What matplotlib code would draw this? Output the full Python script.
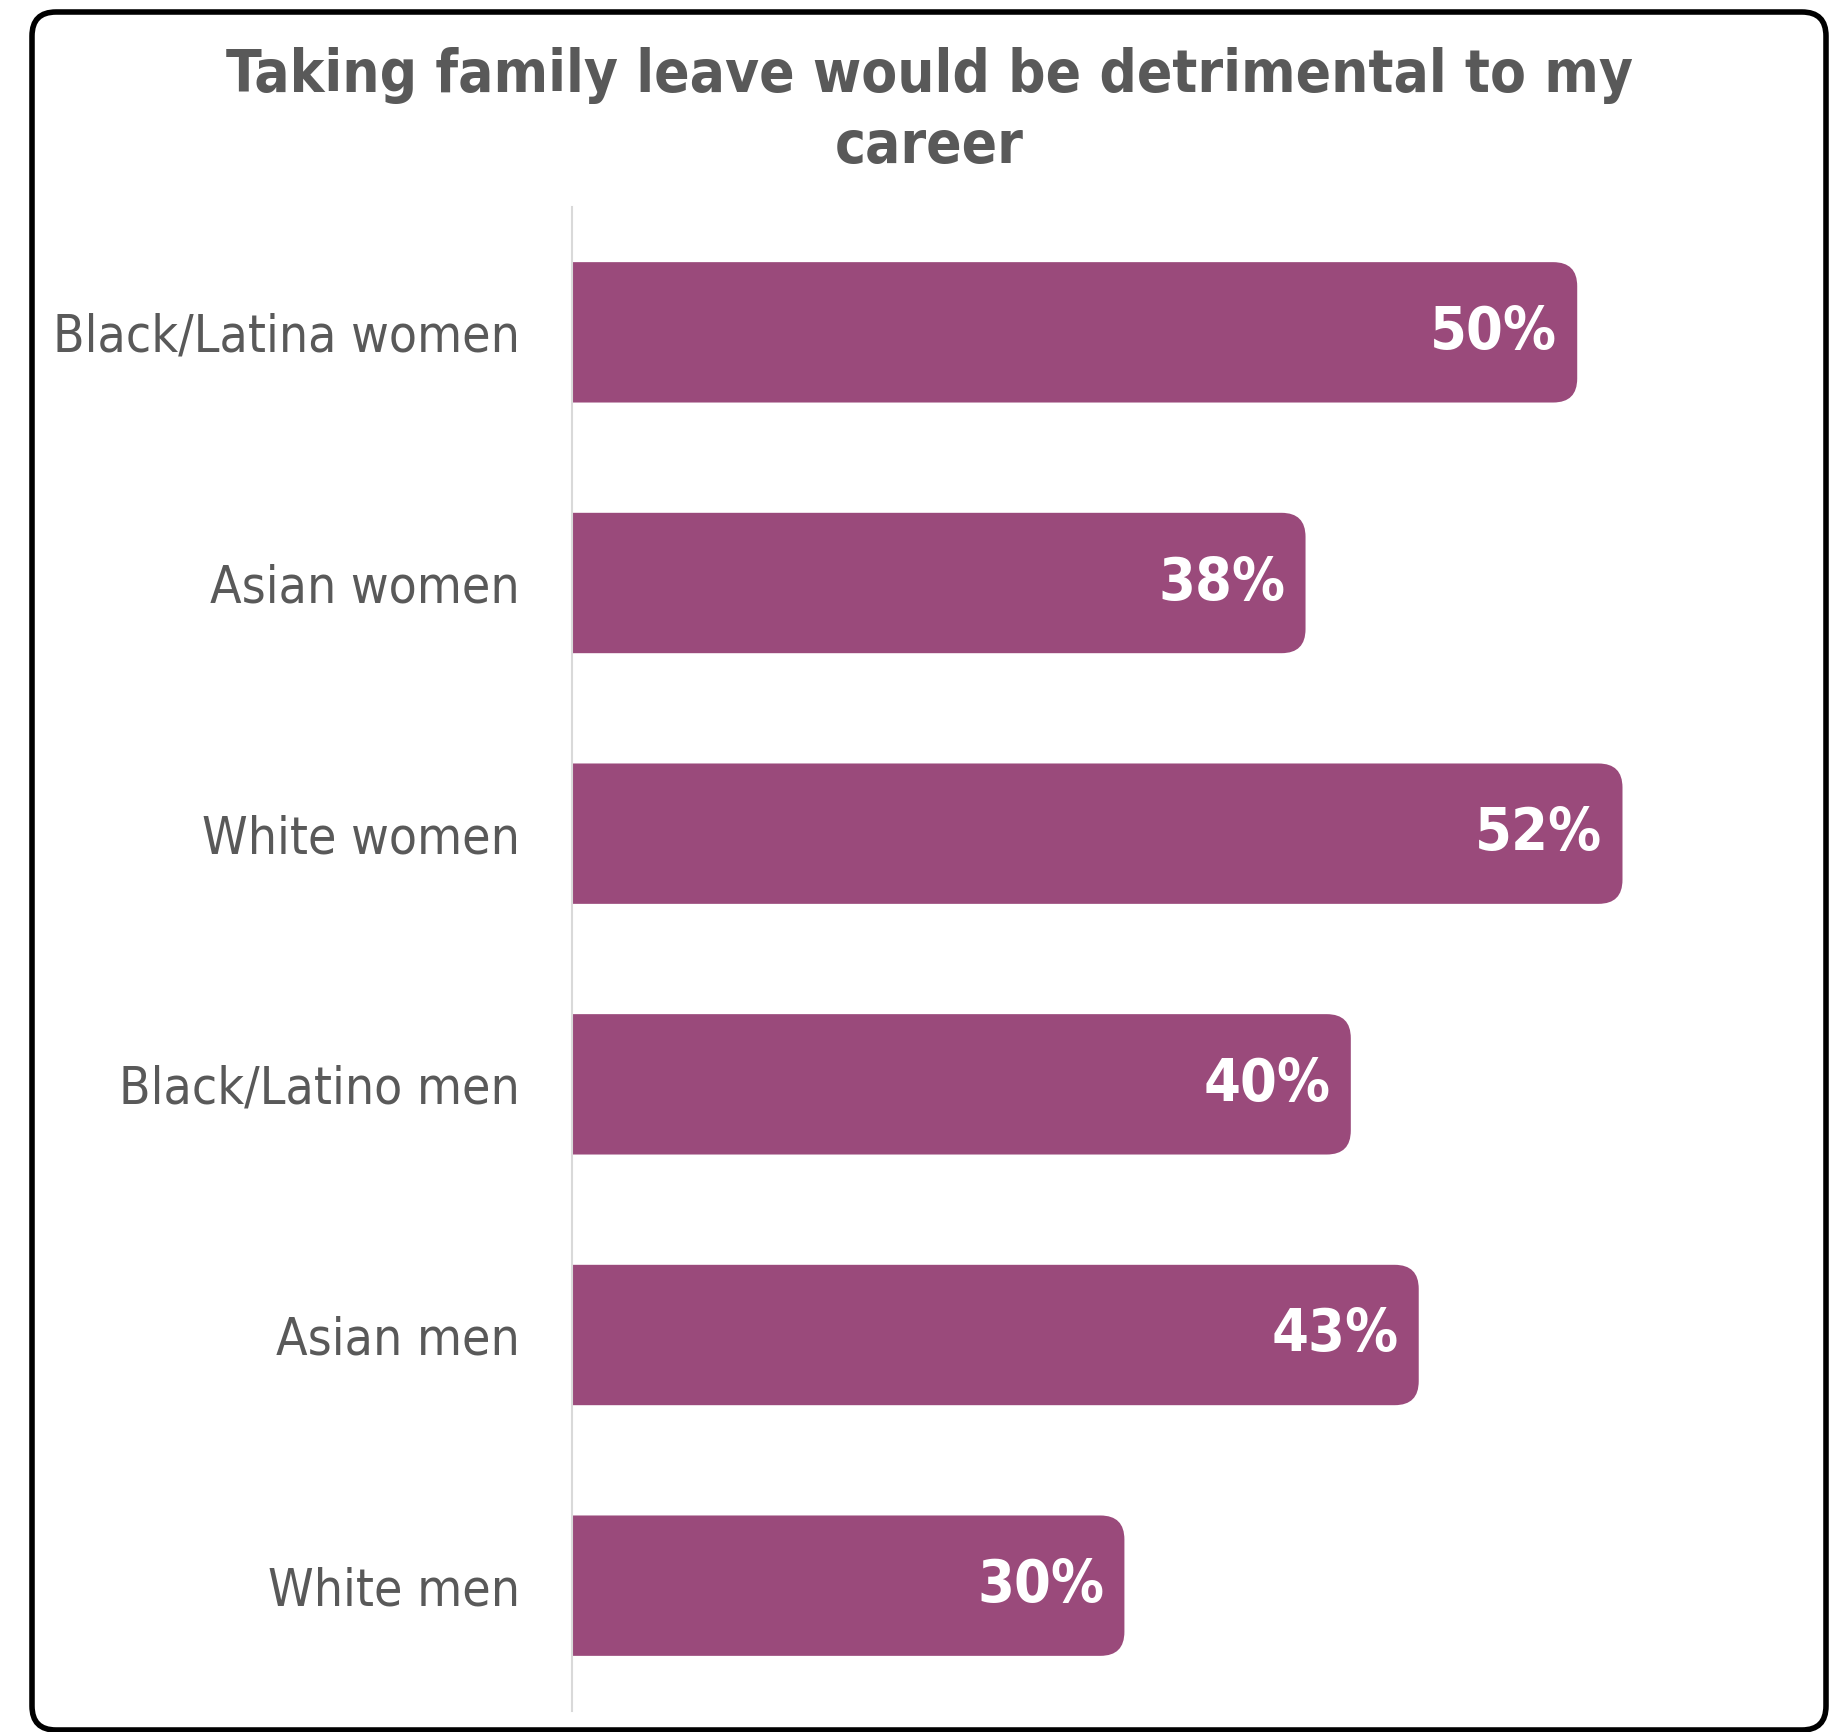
import matplotlib
matplotlib.use("Agg")
import matplotlib.pyplot as plt
from matplotlib.patches import FancyBboxPatch
from matplotlib.font_manager import FontProperties

# ---- data -------------------------------------------------------------
groups = ["Black/Latina women", "Asian women", "White women",
          "Black/Latino men", "Asian men", "White men"]
shares = [50, 38, 52, 40, 43, 30]
title_lines = ["Taking family leave would be detrimental to my", "career"]

# ---- style ------------------------------------------------------------
BAR = "#9A4A7B"
GREY = "#595959"
AXIS = "#D9D9D9"
FAMILY = ["DejaVu Sans"]
STRETCH = "condensed"

W, H, DPI = 1847, 1732, 100
fig = plt.figure(figsize=(W / DPI, H / DPI), dpi=DPI)
fig.patch.set_facecolor("white")

# rounded frame around the whole chart, drawn in pixel units
frame_ax = fig.add_axes([0, 0, 1, 1])
frame_ax.set_xlim(0, W)
frame_ax.set_ylim(H, 0)
frame_ax.axis("off")
frame = FancyBboxPatch((32, 12), 1826 - 32, 1730 - 12,
                       boxstyle="round,pad=0,rounding_size=24",
                       fc="none", ec="black", lw=4.0)
frame_ax.add_patch(frame)

# ---- bar axes -----------------------------------------------------------
x_min, x_max = 5.6, 60.0
ax_left_px, ax_top_px, ax_bot_px = 572, 207, 1711
px_per_x = 22.64
ax_w_px = (x_max - x_min) * px_per_x
ax = fig.add_axes([ax_left_px / W, 1 - ax_bot_px / H, ax_w_px / W, (ax_bot_px - ax_top_px) / H])
ax.set_xlim(x_min, x_max)
ax.set_ylim(len(groups) - 0.5, -0.5)
ax.patch.set_alpha(0)

for s in ("top", "right", "bottom"):
    ax.spines[s].set_visible(False)
ax.spines["left"].set_color(AXIS)
ax.spines["left"].set_linewidth(1.5)
ax.set_xticks([])

px_per_y = (ax_bot_px - ax_top_px) / len(groups)
radius_px = 24
bar_h = 0.56
renderer = fig.canvas.get_renderer()


def fitted_size(text, bold, target_px, start=30):
    fp = FontProperties(family=FAMILY, stretch=STRETCH,
                        weight="bold" if bold else "normal", size=start)
    t = fig.text(0, 0, text, fontproperties=fp)
    w = t.get_window_extent(renderer).width
    t.remove()
    return start * target_px / w


label_size = fitted_size("Black/Latina women", False, 466)
value_size = fitted_size("50%", True, 127)
title_size = fitted_size(title_lines[0], True, 1407)

for i, (g, v) in enumerate(zip(groups, shares)):
    ax.add_patch(FancyBboxPatch((0, i - bar_h / 2), v, bar_h,
                                boxstyle=f"round,pad=0,rounding_size={radius_px / px_per_x}",
                                mutation_aspect=px_per_x / px_per_y,
                                fc=BAR, ec="none"))
    ax.annotate(f"{v}%", xy=(v, i), xytext=(-20, 0), textcoords="offset pixels",
                ha="right", va="center", color="white", fontweight="bold",
                family=FAMILY, fontstretch=STRETCH, fontsize=value_size)

ax.set_yticks(range(len(groups)))
ax.set_yticklabels(groups, family=FAMILY, fontstretch=STRETCH,
                   fontsize=label_size, color=GREY)
ax.tick_params(axis="y", length=0, pad=52 * 72 / DPI)

# ---- title --------------------------------------------------------------
cx = 929 / W
fig.text(cx, 1 - 92 / H, title_lines[0], ha="center", va="baseline",
         fontsize=title_size, fontweight="bold", color=GREY,
         family=FAMILY, fontstretch=STRETCH)
fig.text(cx, 1 - 163 / H, title_lines[1], ha="center", va="baseline",
         fontsize=title_size, fontweight="bold", color=GREY,
         family=FAMILY, fontstretch=STRETCH)

fig.savefig("out.png", dpi=DPI, facecolor="white")
